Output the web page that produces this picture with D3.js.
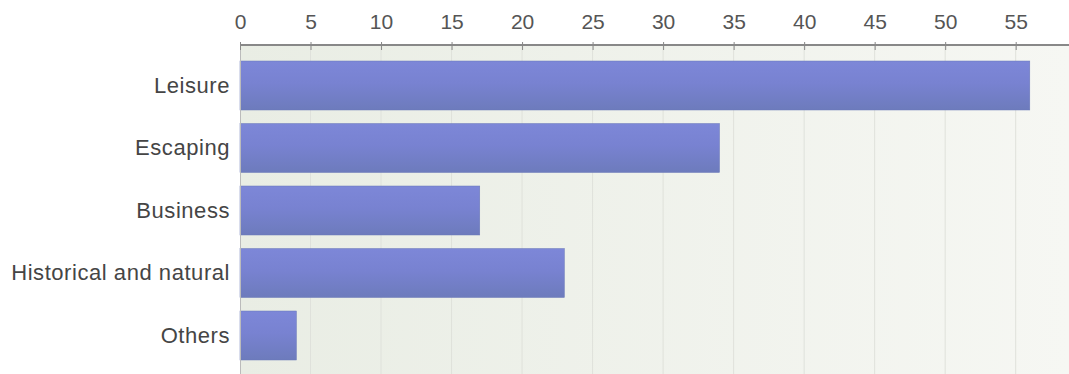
<!DOCTYPE html>
<html><head><meta charset="utf-8">
<script src="https://cdn.jsdelivr.net/npm/d3@7"></script>
<style>html,body{margin:0;padding:0;background:#fff;}svg{display:block;}</style>
</head><body>
<svg id="c" width="1069" height="374"></svg>
<script>
const categories = ["Leisure", "Escaping", "Business", "Historical and natural", "Others"];
const values = [56, 34, 17, 23, 4];
const tickValues = [0, 5, 10, 15, 20, 25, 30, 35, 40, 45, 50, 55];

const svg = d3.select("#c");
const W = 1069, H = 374;
const x0 = 240, axisY = 45;
const x = d3.scaleLinear().domain([0, 55]).range([x0, 1015.7]);
const y = d3.scaleBand().domain(categories).range([47, 374]).paddingInner(0.216).paddingOuter(0.224);

const defs = svg.append("defs");
const bg = defs.append("linearGradient").attr("id", "bg").attr("x1", "0").attr("x2", "1").attr("y1", "0").attr("y2", "0");
bg.append("stop").attr("offset", "0").attr("stop-color", "#e9ede4");
bg.append("stop").attr("offset", "1").attr("stop-color", "#f6f7f3");
const bar = defs.append("linearGradient").attr("id", "bar").attr("x1", "0").attr("x2", "0").attr("y1", "0").attr("y2", "1");
bar.append("stop").attr("offset", "0").attr("stop-color", "#7d87d8");
bar.append("stop").attr("offset", "0.45").attr("stop-color", "#7882d1");
bar.append("stop").attr("offset", "1").attr("stop-color", "#6d7bbc");

svg.append("rect").attr("x", x0).attr("y", axisY).attr("width", W - x0).attr("height", H - axisY).attr("fill", "url(#bg)");

svg.append("g").selectAll("line").data(tickValues.slice(1)).join("line")
  .attr("x1", d => x(d)).attr("x2", d => x(d)).attr("y1", axisY).attr("y2", H)
  .attr("stroke", "#dfe1db").attr("stroke-width", 1);

svg.append("g").selectAll("rect").data(values).join("rect")
  .attr("x", x(0)).attr("y", (d, i) => y(categories[i]))
  .attr("width", d => x(d) - x(0)).attr("height", y.bandwidth())
  .attr("fill", "url(#bar)").attr("stroke", "#6a78b8").attr("stroke-width", 0.5);

svg.append("line").attr("x1", x0 + 0.5).attr("x2", x0 + 0.5).attr("y1", axisY).attr("y2", H).attr("stroke", "#bbbbbb");

const xAxis = d3.axisTop(x).tickValues(tickValues).tickSize(4).tickSizeOuter(0).tickPadding(12);
const gx = svg.append("g").attr("transform", `translate(0,${axisY})`).call(xAxis);
gx.select(".domain").remove();
gx.append("line").attr("x1", x0).attr("x2", W).attr("y1", 0).attr("y2", 0).attr("stroke", "#888").attr("stroke-width", 2);
gx.selectAll(".tick line").attr("stroke", "#888").attr("y1", -3).attr("y2", 5);
gx.selectAll(".tick text").attr("fill", "#555").attr("font-family", "'Liberation Sans', Arial, sans-serif").attr("font-size", "21px");

const yAxis = d3.axisLeft(y).tickSize(0).tickPadding(10);
const gy = svg.append("g").attr("transform", `translate(${x0},0)`).call(yAxis);
gy.select(".domain").remove();
gy.selectAll(".tick text").attr("fill", "#454545").attr("font-family", "'Liberation Sans', Arial, sans-serif")
  .attr("font-size", "22px").attr("letter-spacing", "0.55px");
</script>
</body></html>
